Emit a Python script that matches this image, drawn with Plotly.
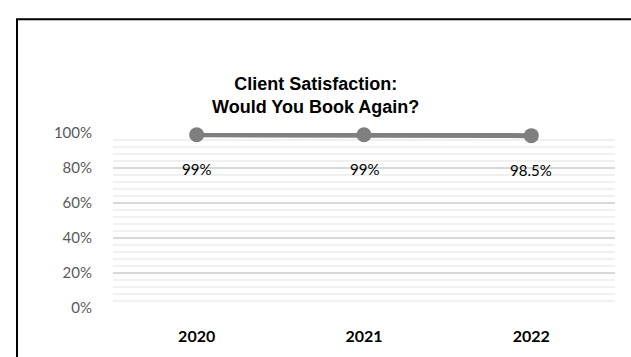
import plotly.graph_objects as go

years = ["2020", "2021", "2022"]
values = [0.99, 0.99, 0.985]
labels = ["99%", "99%", "98.5%"]
y_ticks = [0, 0.2, 0.4, 0.6, 0.8, 1.0]
y_tick_text = ["0%", "20%", "40%", "60%", "80%", "100%"]

W, H = 631, 357
L, R, T, B = 113, 16, 133, 47
pw, ph = W - L - R, H - T - B

def px(x):
    return (x - L) / pw

def py(y):
    return (H - B - y) / ph

fig = go.Figure()
fig.add_trace(go.Scatter(
    x=years, y=values, mode="lines+markers",
    line=dict(color="#7f7f7f", width=5),
    marker=dict(color="#7f7f7f", size=15),
    cliponaxis=False,
    hoverinfo="skip", showlegend=False,
))

for i, (yv, t) in enumerate(zip(values, labels)):
    fig.add_annotation(x=i, y=yv, text=t, showarrow=False, yshift=-34,
                       xanchor="center", yanchor="middle",
                       font=dict(family="Lato", size=15, color="#000000"))

fig.add_annotation(xref="paper", yref="paper", x=px(315), y=py(95),
                   xanchor="center", yanchor="middle",
                   text="<b>Client Satisfaction:<br>Would You Book Again?</b>",
                   showarrow=False, align="center",
                   font=dict(family="Liberation Sans", size=18, color="#000000"))

fig.add_shape(type="rect", xref="paper", yref="paper",
              x0=px(17), x1=px(640), y0=py(365), y1=py(18),
              line=dict(color="#000000", width=2), layer="above")

fig.update_layout(
    width=W, height=H,
    margin=dict(l=L, r=R, t=T, b=B),
    plot_bgcolor="white", paper_bgcolor="white",
    xaxis=dict(type="category", showgrid=False, showline=False, zeroline=False,
               tickfont=dict(family="Lato", size=16, color="#000000", weight="bold"),
               ticks="", ticklabelstandoff=17, range=[-0.5, 2.5]),
    yaxis=dict(range=[0, 1.0], tickvals=y_ticks, ticktext=y_tick_text,
               showgrid=True, gridcolor="#d9d9d9", gridwidth=1.5,
               zeroline=False, showline=False, ticks="",
               tickfont=dict(family="Lato", size=15, color="#595959"),
               ticklabelstandoff=20,
               minor=dict(dtick=0.04, showgrid=True, gridcolor="#f0f0f0", gridwidth=1.5)),
)

fig.write_html("out.html", config={"displayModeBar": False},
               post_script="document.body.style.margin='0';document.body.style.overflow='hidden';")
